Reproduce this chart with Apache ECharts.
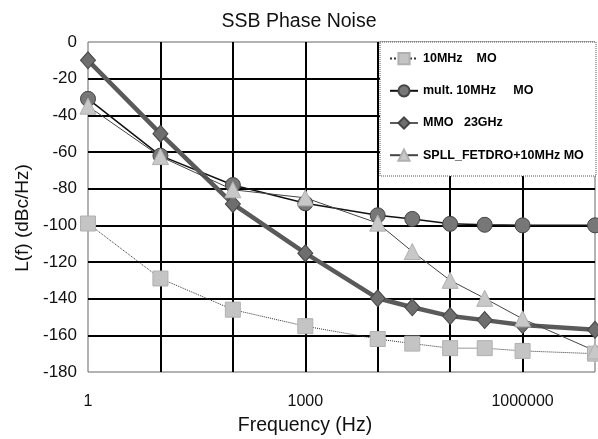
<!DOCTYPE html>
<html>
<head>
<meta charset="utf-8">
<script src="https://cdn.jsdelivr.net/npm/echarts@6/dist/echarts.min.js"></script>
<style>html,body{margin:0;padding:0;background:#fff;}#c{width:598px;height:439px;}</style>
</head>
<body>
<div id="c"></div>
<script>
var freqs = [1, 10, 100, 1000, 10000, 30000, 100000, 300000, 1000000, 10000000];
var mo10 = [-99, -129, -146, -155, -162, -164.5, -167, -167, -168.5, -170];
var mult10 = [-31, -62, -78, -88, -94.5, -96.5, -99.2, -99.7, -100, -100];
var mmo23 = [-10, -50, -88.3, -115.2, -139.8, -144.7, -149.5, -151.7, -154.4, -157];
var spll = [-35, -62.5, -80.6, -85, -98.8, -114.3, -130, -139.8, -151, -168.5];
var seriesNames = ['10MHz    MO', 'mult. 10MHz     MO', 'MMO   23GHz', 'SPLL_FETDRO+10MHz MO'];
var xLabelDecades = [0, 3, 6];

function pairs(ys) { return freqs.map(function (f, i) { return [f, ys[i]]; }); }

var chart = echarts.init(document.getElementById('c'), null, {renderer: 'canvas'});
var FONT = 'Liberation Sans, Arial, sans-serif';
chart.setOption({
  animation: false,
  backgroundColor: '#fff',
  title: {
    text: 'SSB Phase Noise', left: 294, top: 7, textAlign: 'center',
    textStyle: {fontFamily: FONT, fontSize: 19.5, fontWeight: 'normal', color: '#111'}
  },
  grid: {left: 88, right: 2, top: 42, bottom: 67, show: true, borderColor: '#666', borderWidth: 1},
  xAxis: {
    type: 'log', logBase: 10, min: 1, max: 10000000,
    axisLine: {show: false}, axisTick: {show: false},
    splitLine: {show: true, showMinLine: false, showMaxLine: false, lineStyle: {color: '#000', width: 2}},
    minorTick: {show: false}, minorSplitLine: {show: false},
    axisLabel: {
      margin: 22, fontFamily: FONT, fontSize: 16, color: '#111',
      formatter: function (v) {
        var d = Math.round(Math.log10(v));
        return xLabelDecades.indexOf(d) >= 0 ? String(v) : '';
      }
    }
  },
  yAxis: {
    type: 'value', min: -180, max: 0, interval: 20,
    axisLine: {show: false}, axisTick: {show: false},
    splitLine: {show: true, showMinLine: false, showMaxLine: false, lineStyle: {color: '#000', width: 2}},
    axisLabel: {margin: 11, fontFamily: FONT, fontSize: 17, color: '#111'}
  },
  graphic: [
    {type: 'rect', z: 3, shape: {x: 380, y: 42, width: 216, height: 134},
     style: {fill: '#fff', stroke: '#555', lineWidth: 1, lineDash: [1, 1]}},
    {type: 'text', z: 5, x: 305, y: 426,
     style: {text: 'Frequency (Hz)', font: '19.5px ' + FONT, fill: '#111', align: 'center', verticalAlign: 'middle'}},
    {type: 'text', z: 5, x: 23, y: 218, rotation: Math.PI / 2,
     style: {text: 'L(f) (dBc/Hz)', font: '19px ' + FONT, fill: '#111', align: 'center', verticalAlign: 'middle'}}
  ],
  legend: {
    orient: 'vertical', left: 389, top: 52, padding: 0, itemGap: 19,
    itemWidth: 28, itemHeight: 14, z: 6,
    textStyle: {fontFamily: FONT, fontSize: 12.5, fontWeight: 'bold', color: '#000'},
    data: seriesNames
  },
  series: [
    {name: seriesNames[0], type: 'line', data: pairs(mo10), symbol: 'rect', symbolSize: 15,
     lineStyle: {color: '#333', width: 1, type: 'dotted'},
     itemStyle: {color: '#c4c4c4', borderColor: '#b0b0b0', borderWidth: 1}},
    {name: seriesNames[1], type: 'line', data: pairs(mult10), symbol: 'circle', symbolSize: 15,
     lineStyle: {color: '#111', width: 1.5},
     itemStyle: {color: '#777', borderColor: '#444', borderWidth: 1}},
    {name: seriesNames[2], type: 'line', data: pairs(mmo23), symbol: 'diamond', symbolSize: [15, 17],
     lineStyle: {color: '#5a5a5a', width: 4.5},
     itemStyle: {color: '#6e6e6e', borderColor: '#444', borderWidth: 1}},
    {name: seriesNames[3], type: 'line', data: pairs(spll), symbol: 'triangle', symbolSize: 16,
     lineStyle: {color: '#444', width: 1},
     itemStyle: {color: '#c8c8c8', borderColor: '#b0b0b0', borderWidth: 1}}
  ]
});
</script>
</body>
</html>
